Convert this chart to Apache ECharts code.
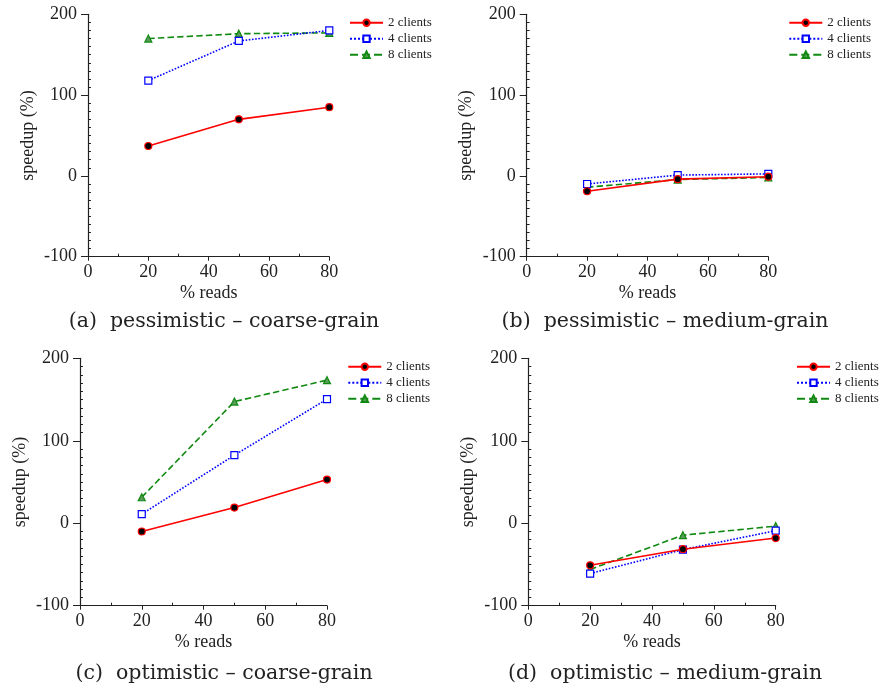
<!DOCTYPE html>
<html>
<head>
<meta charset="utf-8">
<script src="https://cdn.jsdelivr.net/npm/echarts@6/dist/echarts.min.js"></script>
<style>
html,body{margin:0;padding:0;background:#fff;}
#chart{width:883px;height:689px;}
</style>
</head>
<body>
<div id="chart"></div>
<script>
// Data
const readsPct = [20, 50, 80];
const seriesNames = ['2 clients', '4 clients', '8 clients'];
const captions = ['(a)  pessimistic \u2013 coarse-grain', '(b)  pessimistic \u2013 medium-grain',
                  '(c)  optimistic \u2013 coarse-grain', '(d)  optimistic \u2013 medium-grain'];
const xTicks = [0, 20, 40, 60, 80];
const yTicks = [-100, 0, 100, 200];
// panel (a) pessimistic coarse-grain
const a2 = [37, 70, 85];
const a4 = [118, 167, 180];
const a8 = [170, 176, 177];
// panel (b) pessimistic medium-grain
const b2 = [-19, -4, -1];
const b4 = [-10, 1, 2.5];
const b8 = [-14, -4.5, -2];
// panel (c) optimistic coarse-grain
const c2 = [-10, 19, 53];
const c4 = [11, 82.5, 150.5];
const c8 = [31.5, 147.5, 173.5];
// panel (d) optimistic medium-grain
const d2 = [-51, -31.5, -18];
const d4 = [-61, -32, -9];
const d8 = [-56, -14.5, -3.5];

const panels = [[a2, a4, a8], [b2, b4, b8], [c2, c4, c8], [d2, d4, d8]];

// Layout
const grids = [
  {left: 88, top: 14.3, width: 241.3, height: 242.4},
  {left: 526.7, top: 14.3, width: 241.6, height: 242.4},
  {left: 80, top: 358.3, width: 247, height: 247.4},
  {left: 528.3, top: 358.3, width: 247.4, height: 247.4}
];
const legendPos = [
  {left: 349, top: 14.7},
  {left: 788.3, top: 14.7},
  {left: 347.3, top: 358.7},
  {left: 796, top: 358.7}
];
const captionPos = [
  {x: 224, y: 321.7},
  {x: 665, y: 321.7},
  {x: 224, y: 673.3},
  {x: 665, y: 673.3}
];

const FONT = '"Liberation Serif", "DejaVu Serif", serif';
const CAPFONT = '"DejaVu Serif", "Liberation Serif", serif';
const styles = [
  {color: '#ff0000', type: 'solid', symbol: 'circle', size: 7, fill: '#000000'},
  {color: '#0000ff', type: 'dotted', symbol: 'rect', size: 7, fill: '#ffffff'},
  {color: '#108a10', type: 'dashed', symbol: 'triangle', size: 7, fill: '#5a9a5a'}
];

const option = {
  backgroundColor: '#ffffff',
  animation: false,
  grid: grids.map(g => Object.assign({containLabel: false}, g)),
  xAxis: grids.map((g, i) => ({
    gridIndex: i, type: 'value', min: xTicks[0], max: xTicks[xTicks.length - 1], interval: 20,
    name: '% reads', nameLocation: 'middle', nameGap: 28,
    nameTextStyle: {fontFamily: FONT, fontSize: 18, color: '#222'},
    axisLine: {show: true, onZero: false, lineStyle: {color: '#222', width: 1.2}},
    axisTick: {show: true, inside: false, length: 4, lineStyle: {color: '#222'}},
    minorTick: {show: true, splitNumber: 2, length: -3, lineStyle: {color: '#222'}},
    axisLabel: {fontFamily: FONT, fontSize: 18, color: '#222', margin: 7},
    splitLine: {show: false}
  })),
  yAxis: grids.map((g, i) => ({
    gridIndex: i, type: 'value', min: yTicks[0], max: yTicks[yTicks.length - 1], interval: 100,
    name: 'speedup (%)', nameLocation: 'middle', nameGap: 51,
    nameTextStyle: {fontFamily: FONT, fontSize: 18, color: '#222'},
    axisLine: {show: true, onZero: false, lineStyle: {color: '#222', width: 1.2}},
    axisTick: {show: true, inside: false, length: 7, lineStyle: {color: '#222'}},
    minorTick: {show: true, splitNumber: 10, length: -3, lineStyle: {color: '#222'}},
    axisLabel: {fontFamily: FONT, fontSize: 18, color: '#222', margin: 11},
    splitLine: {show: false}
  })),
  legend: legendPos.map(p => ({
    left: p.left, top: p.top, orient: 'vertical', padding: 0, itemGap: 0,
    itemWidth: 33, itemHeight: 8,
    data: seriesNames,
    selectedMode: false,
    textStyle: {fontFamily: FONT, fontSize: 13, color: '#222', lineHeight: 16, padding: [0, 0, 0, 0]}
  })),
  series: [],
  graphic: captionPos.map((p, i) => ({
    type: 'text', x: p.x, y: p.y,
    style: {text: captions[i], font: '20.5px ' + CAPFONT, fill: '#222', textAlign: 'center', textVerticalAlign: 'middle'}
  }))
};

panels.forEach((vals, pi) => {
  vals.forEach((v, si) => {
    const s = styles[si];
    option.series.push({
      name: seriesNames[si], type: 'line', xAxisIndex: pi, yAxisIndex: pi,
      data: readsPct.map((x, k) => [x, v[k]]),
      symbol: s.symbol, symbolSize: s.size, showSymbol: true,
      lineStyle: {color: s.color, width: 1.6, type: s.type},
      itemStyle: {color: s.fill, borderColor: s.color, borderWidth: 1.2},
      z: 3 - si
    });
  });
});

const chart = echarts.init(document.getElementById('chart'), null, {renderer: 'canvas'});
chart.setOption(option);
</script>
</body>
</html>
